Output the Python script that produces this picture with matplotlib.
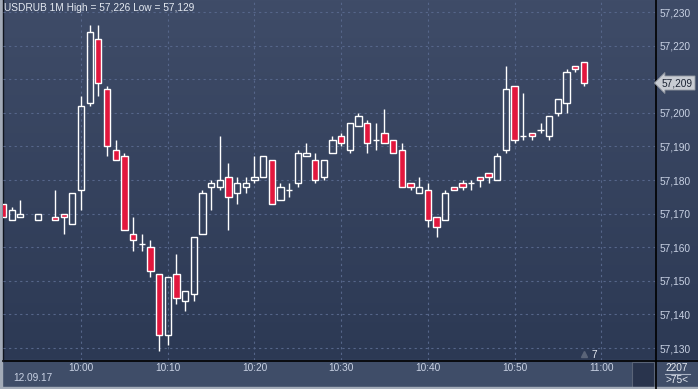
import numpy as np
import matplotlib
matplotlib.use("Agg")
import matplotlib.pyplot as plt
from matplotlib.patches import Rectangle

plt.rcParams['font.family'] = ['Liberation Sans', 'DejaVu Sans']

# 1-minute candles, 12.09.17 (minutes 09:54 and 09:56 have no trades)
times = ['09:51', '09:52', '09:53', '09:55', '09:57', '09:58', '09:59',
         '10:00', '10:01', '10:02', '10:03', '10:04', '10:05', '10:06', '10:07', '10:08', '10:09',
         '10:10', '10:11', '10:12', '10:13', '10:14', '10:15', '10:16', '10:17', '10:18', '10:19',
         '10:20', '10:21', '10:22', '10:23', '10:24', '10:25', '10:26', '10:27', '10:28', '10:29',
         '10:30', '10:31', '10:32', '10:33', '10:34', '10:35', '10:36', '10:37', '10:38', '10:39',
         '10:40', '10:41', '10:42', '10:43', '10:44', '10:45', '10:46', '10:47', '10:48', '10:49',
         '10:50', '10:51', '10:52', '10:53', '10:54', '10:55', '10:56', '10:57', '10:58']
opens = [57.173, 57.168, 57.169, 57.168, 57.169, 57.170, 57.167,
         57.177, 57.203, 57.222, 57.207, 57.189, 57.187, 57.164, 57.161, 57.160, 57.152,
         57.134, 57.152, 57.144, 57.146, 57.164, 57.178, 57.178, 57.181, 57.176, 57.178,
         57.180, 57.181, 57.186, 57.174, 57.177, 57.179, 57.187, 57.186, 57.181, 57.188,
         57.193, 57.189, 57.196, 57.197, 57.192, 57.194, 57.192, 57.189, 57.179, 57.176,
         57.177, 57.169, 57.168, 57.178, 57.179, 57.179, 57.181, 57.182, 57.180, 57.189,
         57.208, 57.193, 57.194, 57.195, 57.193, 57.200, 57.203, 57.214, 57.215]
highs = [57.173, 57.172, 57.174, 57.170, 57.177, 57.170, 57.176,
         57.205, 57.226, 57.226, 57.208, 57.192, 57.188, 57.169, 57.164, 57.162, 57.152,
         57.151, 57.158, 57.147, 57.163, 57.177, 57.180, 57.193, 57.185, 57.181, 57.181,
         57.187, 57.187, 57.186, 57.179, 57.179, 57.189, 57.191, 57.188, 57.186, 57.193,
         57.194, 57.197, 57.200, 57.198, 57.197, 57.201, 57.192, 57.191, 57.179, 57.181,
         57.179, 57.169, 57.177, 57.178, 57.180, 57.180, 57.181, 57.182, 57.188, 57.214,
         57.208, 57.206, 57.194, 57.197, 57.199, 57.204, 57.213, 57.214, 57.215]
lows = [57.169, 57.168, 57.169, 57.168, 57.168, 57.164, 57.167,
        57.171, 57.202, 57.205, 57.187, 57.186, 57.165, 57.159, 57.159, 57.151, 57.129,
        57.131, 57.143, 57.141, 57.144, 57.164, 57.171, 57.177, 57.165, 57.173, 57.176,
        57.179, 57.181, 57.173, 57.174, 57.175, 57.178, 57.187, 57.179, 57.180, 57.188,
        57.190, 57.188, 57.196, 57.188, 57.189, 57.191, 57.188, 57.178, 57.177, 57.176,
        57.166, 57.163, 57.168, 57.177, 57.177, 57.177, 57.178, 57.179, 57.180, 57.188,
        57.191, 57.192, 57.192, 57.194, 57.192, 57.199, 57.200, 57.212, 57.208]
closes = [57.169, 57.171, 57.170, 57.170, 57.168, 57.169, 57.176,
          57.202, 57.224, 57.209, 57.190, 57.186, 57.165, 57.162, 57.161, 57.153, 57.134,
          57.151, 57.145, 57.147, 57.163, 57.176, 57.179, 57.180, 57.175, 57.179, 57.179,
          57.181, 57.187, 57.173, 57.178, 57.177, 57.188, 57.188, 57.180, 57.186, 57.192,
          57.191, 57.197, 57.199, 57.191, 57.192, 57.191, 57.188, 57.178, 57.178, 57.178,
          57.168, 57.166, 57.176, 57.177, 57.178, 57.179, 57.180, 57.181, 57.187, 57.207,
          57.192, 57.193, 57.193, 57.195, 57.199, 57.204, 57.212, 57.213, 57.209]

price_ticks = [57.130, 57.140, 57.150, 57.160, 57.170, 57.180, 57.190, 57.200, 57.210, 57.220, 57.230]
time_ticks = ['10:00', '10:10', '10:20', '10:30', '10:40', '10:50', '11:00']

W, H = 698, 389
BG_TOP = '#3f4c68'
BG_BOT = '#2c3954'
RED = '#e2173d'
TXT = '#c9d2e4'


def to_min(t):
    h, m = t.split(':')
    return (int(h) - 10) * 60 + int(m)


def fx(x):
    return x / W


def fy(y):
    return 1 - y / H


fig = plt.figure(figsize=(W / 100, H / 100), dpi=100)
fig.patch.set_facecolor(BG_BOT)

# background panels drawn in pixel coordinates
bg = fig.add_axes([0, 0, 1, 1])
bg.set_xlim(0, W)
bg.set_ylim(H, 0)
bg.axis('off')
grad = np.linspace(0, 1, 256).reshape(-1, 1)
cmap = matplotlib.colors.LinearSegmentedColormap.from_list('bg', [BG_TOP, BG_BOT])
bg.imshow(grad, cmap=cmap, extent=[0, W, 360, 0], aspect='auto')
bg.add_patch(Rectangle((0, 360), W, 29, color='#3f4d68'))
bg.add_patch(Rectangle((632, 362), 22, 25, facecolor='#29344d', edgecolor='#5a6478', lw=0.8))
bg.plot([2.5, W], [360.5, 360.5], color='black', lw=1.2)
bg.plot([655.5, 655.5], [0, H], color='black', lw=1.2)
bg.plot([2.5, 2.5], [0, 360.5], color='#10151f', lw=1.0)
bg.add_patch(Rectangle((0, 0), 2, H, color='#a3abb8'))
bg.add_patch(Rectangle((0, 387), W, 2, color='#a3abb8'))
bg.plot([665, 690], [373.5, 373.5], color='#aab3c4', lw=0.8)
bg.set_xlim(0, W)
bg.set_ylim(H, 0)

ax = fig.add_axes([fx(3), fy(360), fx(652), 358 / H])
ax.set_facecolor('none')
for s in ax.spines.values():
    s.set_visible(False)

xs = np.array([to_min(t) for t in times])
o = np.array(opens)
h = np.array(highs)
l = np.array(lows)
c = np.array(closes)
top = np.maximum(o, c)
bot = np.minimum(o, c)
bw = 0.72

ax.grid(True, color='#56668a', linestyle=(0, (2, 3)), lw=0.8)
ax.set_axisbelow(True)

# wicks
ax.vlines(xs, top, h, color='white', lw=1.0, zorder=2)
ax.vlines(xs, l, bot, color='white', lw=1.0, zorder=2)

doji = np.isclose(o, c)
up = (c > o) & ~doji
down = (c < o) & ~doji
ax.bar(xs[up], (top - bot)[up], bottom=bot[up], width=bw, facecolor='none',
       edgecolor='white', lw=1.0, zorder=3)
ax.bar(xs[down], (top - bot)[down], bottom=bot[down], width=bw, facecolor=RED,
       edgecolor='white', lw=1.0, zorder=3)
ax.hlines(o[doji], xs[doji] - bw / 2, xs[doji] + bw / 2, color='white', lw=1.0, zorder=3)

ax.set_xlim(-9.0, 66.2)
ax.set_ylim(57.12643, 57.23298)

ax.set_yticks(price_ticks)
ax.set_yticklabels([f'{p:.3f}'.replace('.', ',') for p in price_ticks])
ax.yaxis.tick_right()
ax.set_xticks([to_min(t) for t in time_ticks])
ax.set_xticklabels(time_ticks)
ax.tick_params(axis='both', length=0, colors=TXT, labelsize=7.3)
ax.tick_params(axis='y', pad=3)
ax.tick_params(axis='x', pad=2.5)

fig.text(fx(4), fy(8), 'USDRUB 1M High = 57,226 Low = 57,129', color='#e4e9f1',
         fontsize=7.3, ha='left', va='center')
fig.text(fx(33), fy(378), '12.09.17', color=TXT, fontsize=7.3, ha='center', va='center')
fig.text(fx(594), fy(355), '7', color='#e4e9f1', fontsize=7.3, ha='center', va='center')
bg.plot([584], [354], marker='^', color='#5a6478', ms=4)
fig.text(fx(677), fy(368), '2207', color='#e4e9f1', fontsize=7.3, ha='center', va='center')
fig.text(fx(677), fy(380), '>75<', color='#e4e9f1', fontsize=7.3, ha='center', va='center')

fig.text(fx(662), fy(83), f'{closes[-1]:.3f}'.replace('.', ','), color='#1a2232',
         fontsize=7.3, ha='left', va='center',
         bbox=dict(boxstyle='larrow,pad=0.2', fc='#c8ccd3', ec='#8d939d', lw=0.6))

fig.savefig('out.png', dpi=100, facecolor=fig.get_facecolor())
